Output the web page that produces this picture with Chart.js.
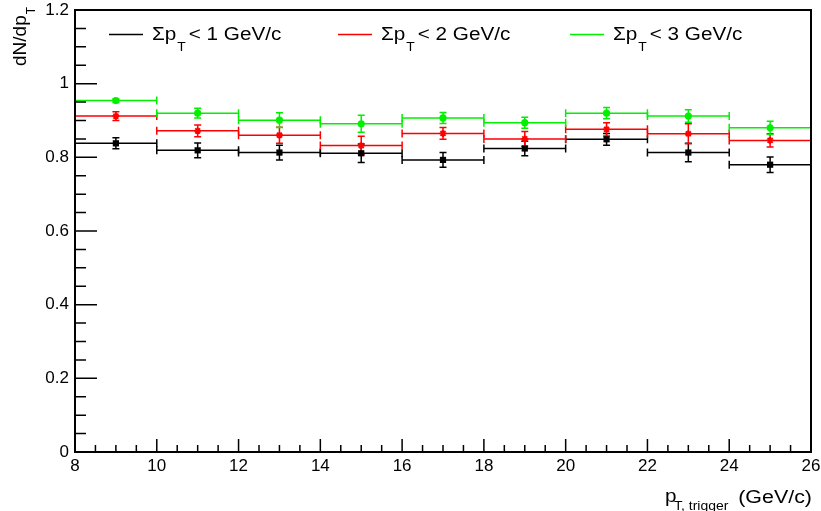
<!DOCTYPE html>
<html><head><meta charset="utf-8">
<script src="https://cdn.jsdelivr.net/npm/chart.js@4"></script>
<style>html,body{margin:0;padding:0;background:#fff}canvas{display:block}</style>
</head><body>
<canvas id="c" width="821" height="511"></canvas>
<script>
// ---- data ----
const binCenters = [9, 11, 13, 15, 17, 19, 21, 23, 25];
const binHalfWidths = [1, 1, 1, 1, 1, 1, 1, 1, 1];
const sumPt1 = [0.838, 0.819, 0.813, 0.811, 0.793, 0.824, 0.849, 0.813, 0.780];
const sumPt1Err = [0.015, 0.020, 0.020, 0.025, 0.020, 0.020, 0.016, 0.025, 0.021];
const sumPt2 = [0.912, 0.872, 0.860, 0.832, 0.865, 0.850, 0.876, 0.864, 0.846];
const sumPt2Err = [0.012, 0.016, 0.022, 0.025, 0.016, 0.020, 0.018, 0.027, 0.018];
const sumPt3 = [0.954, 0.920, 0.901, 0.891, 0.907, 0.894, 0.920, 0.912, 0.880];
const sumPt3Err = [0.005, 0.013, 0.020, 0.023, 0.015, 0.015, 0.015, 0.017, 0.018];
const seriesLabels = ['< 1 GeV/c', '< 2 GeV/c', '< 3 GeV/c'];
const xTickValues = [8, 10, 12, 14, 16, 18, 20, 22, 24, 26];
const yTickValues = [0, 0.2, 0.4, 0.6, 0.8, 1.0, 1.2];

const FONT = '"Liberation Sans", Arial, Helvetica, sans-serif';
const series = [
  {values: sumPt1, errors: sumPt1Err, color: '#000000', label: seriesLabels[0], style: 'rect', r: 4.4},
  {values: sumPt2, errors: sumPt2Err, color: '#ff0000', label: seriesLabels[1], style: 'star', r: 3.5},
  {values: sumPt3, errors: sumPt3Err, color: '#00f000', label: seriesLabels[2], style: 'circle', r: 3.6}
];

// draw text with a horizontal stretch (ROOT text renders wider than Arial)
function stretchText(ctx, txt, x, y, size, sx, align) {
  ctx.save();
  ctx.font = size + 'px ' + FONT;
  const w = ctx.measureText(txt).width * sx;
  const left = align === 'right' ? x - w : x;
  ctx.translate(left, y);
  ctx.scale(sx, 1);
  ctx.textAlign = 'left';
  ctx.textBaseline = 'alphabetic';
  ctx.fillText(txt, 0, 0);
  ctx.restore();
  return w;
}

const rootPlugin = {
  id: 'rootStyle',
  beforeDatasetsDraw(chart) {
    const {ctx, scales: {x, y}} = chart;
    ctx.save();
    ctx.lineWidth = 1.5;
    series.forEach(s => {
      ctx.strokeStyle = s.color;
      s.values.forEach((v, i) => {
        const xl = x.getPixelForValue(binCenters[i] - binHalfWidths[i]);
        const xr = x.getPixelForValue(binCenters[i] + binHalfWidths[i]);
        const xc = x.getPixelForValue(binCenters[i]);
        const yc = y.getPixelForValue(v);
        const yt = y.getPixelForValue(v + s.errors[i]);
        const yb = y.getPixelForValue(v - s.errors[i]);
        ctx.beginPath();
        ctx.moveTo(xl, yc); ctx.lineTo(xr, yc);
        ctx.moveTo(xl, yc - 4); ctx.lineTo(xl, yc + 4);
        ctx.moveTo(xr, yc - 4); ctx.lineTo(xr, yc + 4);
        ctx.moveTo(xc, yt); ctx.lineTo(xc, yb);
        ctx.moveTo(xc - 3.5, yt); ctx.lineTo(xc + 3.5, yt);
        ctx.moveTo(xc - 3.5, yb); ctx.lineTo(xc + 3.5, yb);
        ctx.stroke();
      });
    });
    ctx.restore();
  },
  afterDraw(chart) {
    const {ctx, chartArea: a, scales: {x, y}} = chart;
    ctx.save();
    // frame
    ctx.strokeStyle = '#000';
    ctx.lineWidth = 2;
    ctx.strokeRect(a.left, a.top, a.right - a.left, a.bottom - a.top);
    // ticks (inside)
    ctx.lineWidth = 1.5;
    ctx.beginPath();
    for (let v = 8; v <= 26.001; v += 0.5) {
      const px = x.getPixelForValue(v);
      const major = Math.abs(v / 2 - Math.round(v / 2)) < 1e-6;
      ctx.moveTo(px, a.bottom); ctx.lineTo(px, a.bottom - (major ? 13 : 7));
    }
    for (let k = 0; k <= 24; k++) {
      const v = k * 0.05;
      const py = y.getPixelForValue(v);
      const major = k % 4 === 0;
      ctx.moveTo(a.left, py); ctx.lineTo(a.left + (major ? 22 : 11), py);
    }
    ctx.stroke();

    // legend
    ctx.fillStyle = '#000';
    const legX = [109, 338, 570];
    series.forEach((s, i) => {
      const x0 = legX[i];
      ctx.strokeStyle = s.color;
      ctx.lineWidth = 1.5;
      ctx.beginPath(); ctx.moveTo(x0, 34.5); ctx.lineTo(x0 + 34, 34.5); ctx.stroke();
      let tx = x0 + 43;
      tx += stretchText(ctx, '\u03A3p', tx, 40, 18, 1.15);
      tx += stretchText(ctx, 'T', tx + 1, 51, 12, 1.15) + 4;
      stretchText(ctx, s.label, tx, 40, 18, 1.15);
    });

    // y title
    ctx.save();
    ctx.translate(26, 66);
    ctx.rotate(-Math.PI / 2);
    const w = stretchText(ctx, 'dN/dp', 0, 0, 19, 1.0);
    stretchText(ctx, 'T', w + 1, 9, 12, 1.0);
    ctx.restore();

    // x title
    stretchText(ctx, '(GeV/c)', 812, 503, 18, 1.19, 'right');
    stretchText(ctx, 'p', 665, 502, 18, 1.15);
    stretchText(ctx, 'T, trigger', 674, 510, 12.5, 1.12);
    ctx.restore();
  }
};

new Chart(document.getElementById('c'), {
  type: 'scatter',
  data: {
    datasets: series.map((s, i) => ({
      label: s.label,
      data: binCenters.map((c, j) => ({x: c, y: s.values[j]})),
      pointStyle: s.style,
      pointRadius: s.r,
      pointBackgroundColor: s.color,
      pointBorderColor: s.color,
      pointBorderWidth: s.style === 'star' ? 1.8 : 0,
      order: 3 - i
    }))
  },
  options: {
    responsive: false,
    animation: false,
    events: [],
    layout: {padding: {left: 0, top: 10, right: 10, bottom: 0}},
    plugins: {legend: {display: false}, tooltip: {enabled: false}},
    scales: {
      x: {
        type: 'linear', min: 8, max: 26,
        afterBuildTicks: s => { s.ticks = xTickValues.map(v => ({value: v})); },
        afterFit: s => { s.height = 59; s.paddingLeft = 0; s.paddingRight = 0; },
        grid: {display: false, drawTicks: false},
        border: {display: false},
        ticks: {color: '#000', padding: 4, maxRotation: 0, autoSkip: false,
          font: {family: FONT, size: 17}, callback: v => String(v)}
      },
      y: {
        type: 'linear', min: 0, max: 1.2,
        afterBuildTicks: s => { s.ticks = yTickValues.map(v => ({value: v})); },
        afterFit: s => { s.width = 75; s.paddingTop = 0; s.paddingBottom = 0; },
        grid: {display: false, drawTicks: false},
        border: {display: false},
        ticks: {color: '#000', padding: 6, autoSkip: false,
          font: {family: FONT, size: 17}, callback: v => String(+Number(v).toFixed(1))}
      }
    }
  },
  plugins: [rootPlugin]
});
</script>
</body></html>
